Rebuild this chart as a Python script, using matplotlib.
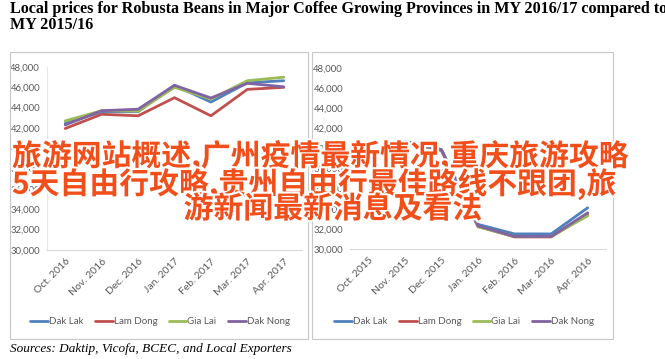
import matplotlib
matplotlib.use('Agg')
import matplotlib.pyplot as plt
import matplotlib.patheffects as pe
from matplotlib.patches import Rectangle

W, H = 665, 359

months_1617 = ['Oct. 2016', 'Nov. 2016', 'Dec. 2016', 'Jan. 2017', 'Feb. 2017', 'Mar. 2017', 'Apr. 2017']
months_1516 = ['Oct. 2015', 'Nov. 2015', 'Dec. 2015', 'Jan. 2016', 'Feb. 2016', 'Mar. 2016', 'Apr. 2016']

provinces = ['Dak Lak', 'Lam Dong', 'Gia Lai', 'Dak Nong']
colors = ['#4F81BD', '#C0504D', '#9BBB59', '#8064A2']

# VND/kg
dak_lak_1617 = [42450, 43600, 43600, 46200, 44550, 46450, 46650]
lam_dong_1617 = [41950, 43350, 43200, 44980, 43200, 45800, 46000]
gia_lai_1617 = [42700, 43700, 43650, 46000, 44850, 46650, 47000]
dak_nong_1617 = [42300, 43700, 43850, 46200, 44950, 46400, 46050]

dak_lak_1516 = [35500, 40700, 39900, 32450, 31500, 31500, 34100]
lam_dong_1516 = [35400, 40600, 39800, 32250, 31200, 31200, 33450]
gia_lai_1516 = [35400, 40600, 39800, 32200, 31250, 31250, 33300]
dak_nong_1516 = [35450, 40650, 39850, 32300, 31250, 31250, 33600]

y_ticks = list(range(30000, 48001, 2000))

title_1 = 'Local prices for Robusta Beans in Major Coffee Growing Provinces in MY 2016/17 compared to'
title_2 = 'MY 2015/16'
source = 'Sources: Daktip, Vicofa, BCEC, and Local Exporters'
overlay = ['旅游网站概述,广州疫情最新情况,重庆旅游攻略',
           '5天自由行攻略,贵州自由行最佳路线不跟团,旅',
           '游新闻最新消息及看法']

narrow = ['Lato', 'DejaVu Sans']
grey_txt = '#595959'


def fx(px):
    return px / W


def fy(py):
    return 1 - py / H


fig = plt.figure(figsize=(W / 100, H / 100), dpi=100)

# panel frames
for x0, x1 in [(10, 308), (312, 613)]:
    fig.patches.append(Rectangle((fx(x0), fy(339)), fx(x1 - x0), (339 - 52) / H,
                                 transform=fig.transFigure, fill=False,
                                 edgecolor='#C8C8C8', lw=0.8))


def panel(rect, months, series, left_spine, legend_cx):
    ax = fig.add_axes(rect)
    x = list(range(len(months)))
    for vals, c, name in zip(series, colors, provinces):
        ax.plot(x, vals, color=c, lw=2.0, label=name, solid_capstyle='round')
    ax.set_xlim(-0.5, len(months) - 0.5)
    ax.set_ylim(30000, 48000)
    ax.set_yticks(y_ticks)
    ax.set_yticklabels(['{:,}'.format(v) for v in y_ticks], family=narrow,
                       fontsize=6.8, color=grey_txt)
    ax.set_xticks(x)
    ax.set_xticklabels(months, rotation=45, ha='right', va='top',
                       rotation_mode='anchor', family=narrow, fontsize=7.5, color=grey_txt)
    ax.tick_params(axis='y', length=0, pad=5)
    ax.tick_params(axis='x', length=0, pad=5)
    for s in ['top', 'right']:
        ax.spines[s].set_visible(False)
    ax.spines['bottom'].set_color('#D9D9D9')
    ax.spines['left'].set_color('#E6E6E6')
    ax.spines['left'].set_visible(left_spine)
    h, l = ax.get_legend_handles_labels()
    fig.legend(h, l, loc='center', bbox_to_anchor=(fx(legend_cx), fy(322)),
               ncol=4, frameon=False, handlelength=1.8, handletextpad=0.1,
               columnspacing=1.2, prop={'family': narrow, 'size': 7},
               labelcolor=grey_txt)
    return ax


panel([fx(47), fy(250), fx(255), 183 / H], months_1617,
      [dak_lak_1617, lam_dong_1617, gia_lai_1617, dak_nong_1617], True, 160)
panel([fx(350), fy(249), fx(256), 181 / H], months_1516,
      [dak_lak_1516, lam_dong_1516, gia_lai_1516, dak_nong_1516], False, 464)

fig.text(fx(10), fy(9), title_1, family='Liberation Serif', fontweight='bold',
         fontsize=11.6, va='center', ha='left')
fig.text(fx(10), fy(25), title_2, family='Liberation Serif', fontweight='bold',
         fontsize=11.6, va='center', ha='left')
fig.text(fx(10), fy(349), source, family='Liberation Serif', style='italic',
         fontsize=9.5, va='center', ha='left')

halo = [pe.withStroke(linewidth=3, foreground='white')]
for txt, xpos, ypos, ha in [(overlay[0], 12, 156, 'left'),
                            (overlay[1], 12, 184, 'left'),
                            (overlay[2], 333, 209, 'center')]:
    fig.text(fx(xpos), fy(ypos), txt, family=['Noto Sans CJK SC', 'DejaVu Sans'],
             fontweight='bold', fontsize=21.5, color='#F24E1A', ha=ha, va='center',
             path_effects=halo)

fig.savefig('out.png', dpi=100)
